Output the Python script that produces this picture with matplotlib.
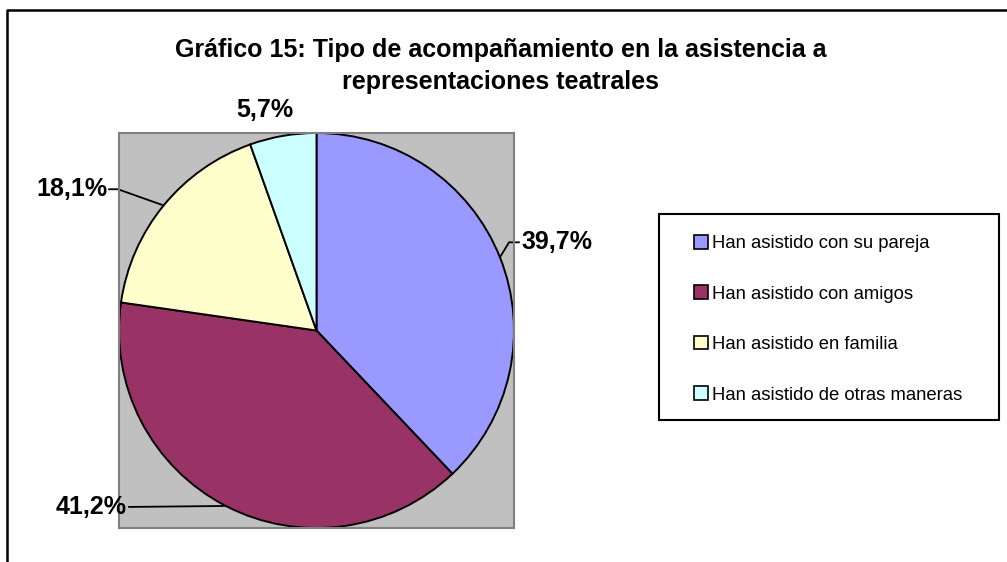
import numpy as np
import matplotlib.pyplot as plt
from matplotlib.patches import Patch, Rectangle
from matplotlib.lines import Line2D

plt.rcParams['font.family'] = ['Liberation Sans', 'DejaVu Sans']

categorias = ['Han asistido con su pareja', 'Han asistido con amigos',
              'Han asistido en familia', 'Han asistido de otras maneras']
porcentajes = [39.7, 41.2, 18.1, 5.7]
etiquetas = ['39,7%', '41,2%', '18,1%', '5,7%']
colores = ['#9999FF', '#993366', '#FFFFCC', '#CCFFFF']

W, H = 1007, 562
fig = plt.figure(figsize=(W / 100, H / 100), dpi=100)


def fx(px):
    return px / W


def fy(py):
    return 1 - py / H


# marco exterior (solo arriba e izquierda visibles)
fig.add_artist(Line2D([fx(7), fx(7), 1.0], [0.0, fy(10), fy(10)],
                      color='black', lw=1.8, transform=fig.transFigure))

fig.text(fx(501), fy(66), 'Gráfico 15: Tipo de acompañamiento en la asistencia a\nrepresentaciones teatrales',
         ha='center', va='center', fontsize=18, fontweight='bold', linespacing=1.42)

ax = fig.add_axes([fx(119), fy(528), (514 - 119) / W, (528 - 133) / H])
wedges, _ = ax.pie(porcentajes, colors=colores, startangle=90, counterclock=False,
                   wedgeprops=dict(edgecolor='black', linewidth=1.4))
ax.set_frame_on(True)
ax.set_facecolor('#C0C0C0')
for s in ax.spines.values():
    s.set_color('#808080')
    s.set_linewidth(1.5)
ax.set_xlim(-1, 1)
ax.set_ylim(-1, 1)
ax.set_aspect('auto')
ax.set_xticks([])
ax.set_yticks([])

# posicion de las etiquetas: codo y extremo de la guia respecto al punto medio del arco
guias = [
    dict(codo=(0.046, 0.076), fin=(0.096, 0.076), ha='left'),
    dict(codo=(-0.49, -0.005), fin=(-0.49, -0.005), ha='right'),
    dict(codo=(-0.231, 0.082), fin=(-0.276, 0.082), ha='right'),
    None,
]

for w, lab, g in zip(wedges, etiquetas, guias):
    mid = np.deg2rad((w.theta1 + w.theta2) / 2)
    x0, y0 = np.cos(mid), np.sin(mid)
    if g is None:
        ax.text(x0 - 0.09, y0 + 0.13, lab, ha='center', va='center',
                fontsize=18, fontweight='bold', clip_on=False)
        continue
    x1, y1 = x0 + g['codo'][0], y0 + g['codo'][1]
    x2, y2 = x0 + g['fin'][0], y0 + g['fin'][1]
    ax.plot([x0, x1, x2], [y0, y1, y2], color='black', lw=1.3, clip_on=False)
    dx = 0.015 if g['ha'] == 'left' else -0.01
    ax.text(x2 + dx, y2, lab, ha=g['ha'], va='center', fontsize=18,
            fontweight='bold', clip_on=False)

fig.add_artist(Rectangle((fx(659), fy(420)), (999 - 659) / W, (420 - 214) / H,
                         transform=fig.transFigure, facecolor='white',
                         edgecolor='black', lw=1.5))
handles = [Patch(facecolor=c, edgecolor='black', lw=1.2) for c in colores]
fig.legend(handles, categorias, loc='upper left', bbox_to_anchor=(fx(694), fy(235)),
           frameon=False, fontsize=13.3, borderpad=0, borderaxespad=0,
           handlelength=0.75, handleheight=0.75, handletextpad=0.25, labelspacing=1.8)

fig.savefig('out.png', dpi=100)
